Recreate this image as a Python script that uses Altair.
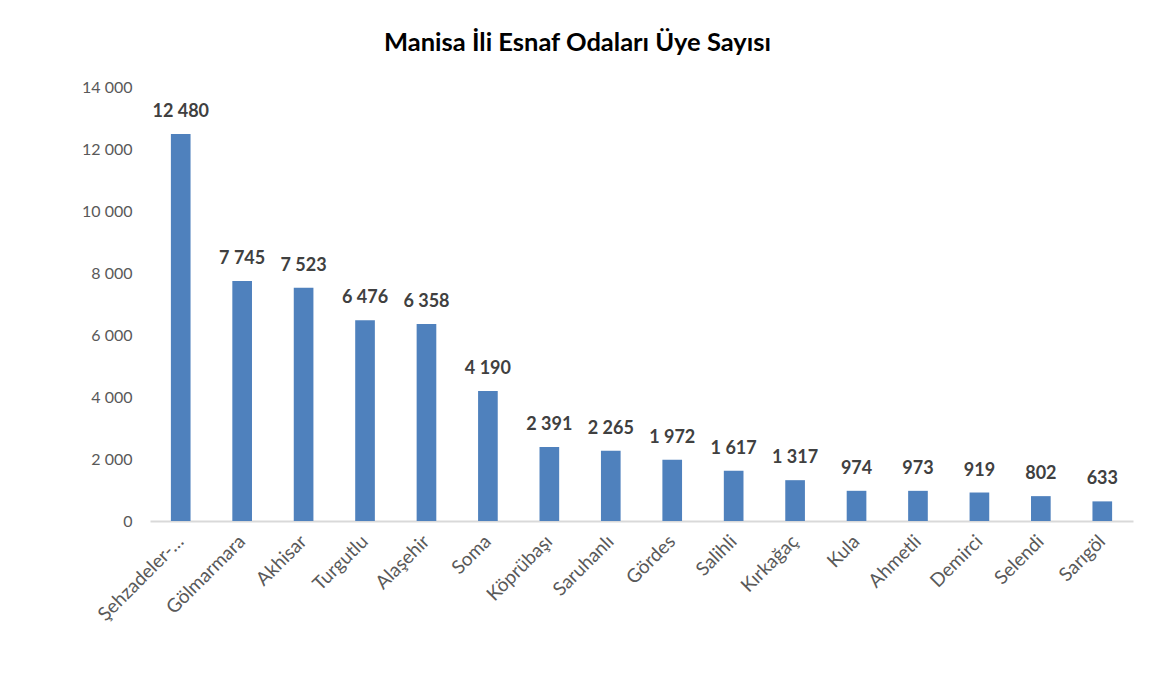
import altair as alt
import pandas as pd

categories = ["Şehzadeler-…", "Gölmarmara", "Akhisar", "Turgutlu", "Alaşehir", "Soma",
              "Köprübaşı", "Saruhanlı", "Gördes", "Salihli", "Kırkağaç", "Kula",
              "Ahmetli", "Demirci", "Selendi", "Sarıgöl"]
members = [12480, 7745, 7523, 6476, 6358, 4190, 2391, 2265, 1972, 1617, 1317, 974,
           973, 919, 802, 633]
y_ticks = [0, 2000, 4000, 6000, 8000, 10000, 12000, 14000]
title_text = "Manisa İli Esnaf Odaları Üye Sayısı"

df = pd.DataFrame({"ilce": categories, "uye": members})

FONT = "Lato"
fmt = "replace(format({v}, ',d'), ',', ' ')"

base = alt.Chart(df).encode(
    x=alt.X("ilce:N", sort=None,
            scale=alt.Scale(paddingInner=0.68, paddingOuter=0.34),
            axis=alt.Axis(title=None, labelAngle=-45, labelAlign="right",
                          labelBaseline="middle", labelPadding=17, ticks=False,
                          domainColor="#D9D9D9", domainWidth=2, labelFont=FONT,
                          labelFontSize=19, labelColor="#595959")),
    y=alt.Y("uye:Q", scale=alt.Scale(domain=[0, 14000], nice=False),
            axis=alt.Axis(title=None, values=y_ticks,
                          labelExpr=fmt.format(v="datum.value"),
                          domain=False, ticks=False, grid=False, labelPadding=18,
                          labelFont=FONT, labelFontSize=16, labelColor="#595959")),
)

bars = base.mark_bar(color="#4F81BD")
labels = base.transform_calculate(
    lbl=fmt.format(v="datum.uye")
).mark_text(dy=-17, baseline="alphabetic", font=FONT, fontWeight="bold",
            fontSize=18, color="#404040").encode(text="lbl:N")

chart = alt.layer(bars, labels).properties(
    width=983, height=434,
    title=alt.TitleParams(title_text, font=FONT, fontSize=25.5, fontWeight="bold",
                          color="#000000", anchor="middle", dx=-64,
                          baseline="middle", offset=11),
    autosize=alt.AutoSizeParams(type="none"),
    padding={"left": 142, "top": 79, "right": 12, "bottom": 160},
).configure_view(stroke=None)

chart.save("out.html", embed_options={"renderer": "svg", "actions": False})
